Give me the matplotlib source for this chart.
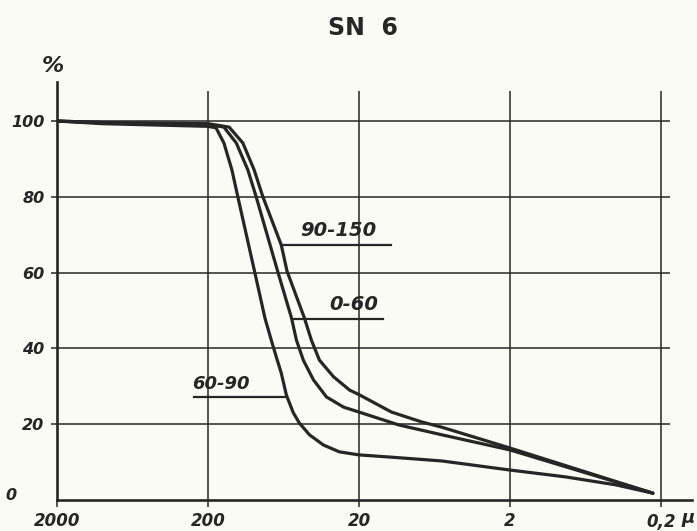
import matplotlib.pyplot as plt
from matplotlib.ticker import NullLocator

# grain size (micron) vs cumulative percent
d_6090 = [2000, 1000, 200, 177, 157, 139, 127, 98.5, 84, 76.3, 70.6, 65.5, 60.6, 54.5, 49.7, 42.6, 34.4, 27, 20, 12.2, 5.66, 2, 0.86, 0.40, 0.227]
p_6090 = [100, 99.3, 98.6, 98.2, 94.2, 87.1, 80, 60.4, 48, 42.2, 37.7, 33.5, 27.7, 23, 20.3, 17.2, 14.5, 12.7, 11.9, 11.3, 10.3, 7.9, 6.1, 4.0, 1.8]

d_060 = [2000, 1000, 200, 157, 130, 109, 96, 69.6, 56, 52, 46.8, 40.1, 32.9, 25.3, 20, 10.9, 5.66, 2, 0.227]
p_060 = [100, 99.6, 99.1, 98.4, 94.2, 87.1, 80, 60.7, 48, 42.2, 36.9, 31.7, 27.2, 24.5, 23.2, 19.8, 17.2, 13.2, 1.8]

d_90150 = [2000, 1000, 200, 145, 117.6, 99, 86.7, 65.5, 60, 46, 41.4, 36.6, 29.5, 23.1, 20, 12.2, 7.7, 5.66, 2, 0.227]
p_90150 = [100, 99.6, 99.3, 98.4, 94.2, 87.1, 80, 67.3, 60.4, 48, 42.2, 36.9, 32.5, 29, 27.8, 23.2, 20.6, 19.2, 13.7, 1.8]

x_ticks = [2000, 200, 20, 2, 0.2]
x_labels = ['2000', '200', '20', '2', '0,2']
y_ticks = [20, 40, 60, 80, 100]

ink = '#262626'
paper = '#fbfbf5'

fig = plt.figure(figsize=(6.97, 5.31), dpi=100, facecolor=paper)
ax = fig.add_axes([57/697, 31/531, 635/697, 418/531])
ax.set_facecolor(paper)
ax.set_xscale('log')
ax.set_xlim(2000, 0.125)
ax.set_ylim(0, 110.3)

for s in ['top', 'right']:
    ax.spines[s].set_visible(False)
for s in ['left', 'bottom']:
    ax.spines[s].set_linewidth(1.9)
    ax.spines[s].set_color(ink)

# hand drawn grid
ax.hlines([20, 40, 60, 80, 100], 2000, 0.174, color=ink, lw=1.1)
ax.vlines([200, 20, 2, 0.2], 0, 108, color=ink, lw=1.1)

lab = dict(fontstyle='italic', fontweight='bold', color=ink, family='DejaVu Sans')
ax.xaxis.set_minor_locator(NullLocator())
ax.set_xticks(x_ticks)
ax.set_xticklabels(x_labels, fontsize=12, **lab)
ax.set_yticks(y_ticks)
ax.set_yticklabels([str(v) for v in y_ticks], fontsize=11.5, **lab)
ax.tick_params(axis='x', length=5, width=1.1, color=ink, pad=4)
ax.tick_params(axis='y', length=4, width=1.1, color=ink, pad=5)

for d, p in [(d_6090, p_6090), (d_060, p_060), (d_90150, p_90150)]:
    ax.plot(d, p, color=ink, lw=2.3, solid_joinstyle='round', solid_capstyle='round')

# curve labels with underline leaders
ax.text(27.5, 68.6, '90-150', ha='center', va='bottom', fontsize=14, **lab)
ax.plot([65.5, 12.3], [67.3, 67.3], color=ink, lw=1.6)
ax.text(21.6, 49.0, '0-60', ha='center', va='bottom', fontsize=14, **lab)
ax.plot([54, 13.9], [47.8, 47.8], color=ink, lw=1.6)
ax.text(164, 28.3, '60-90', ha='center', va='bottom', fontsize=13, **lab)
ax.plot([248, 61], [27.2, 27.2], color=ink, lw=1.6)

fig.text(363/697, 1 - 28/531, 'SN  6', ha='center', va='center',
         fontsize=17, fontweight='bold', color=ink, family='DejaVu Sans')
fig.text(53/697, 1 - 66/531, '%', ha='center', va='center', fontsize=16, **lab)
fig.text(11/697, 1 - 496/531, '0', ha='center', va='center', fontsize=11.5, **lab)
fig.text(688/697, 1 - 518/531, 'µ', ha='center', va='center', fontsize=13, **lab)

fig.savefig('out.png', dpi=100, facecolor=paper)
